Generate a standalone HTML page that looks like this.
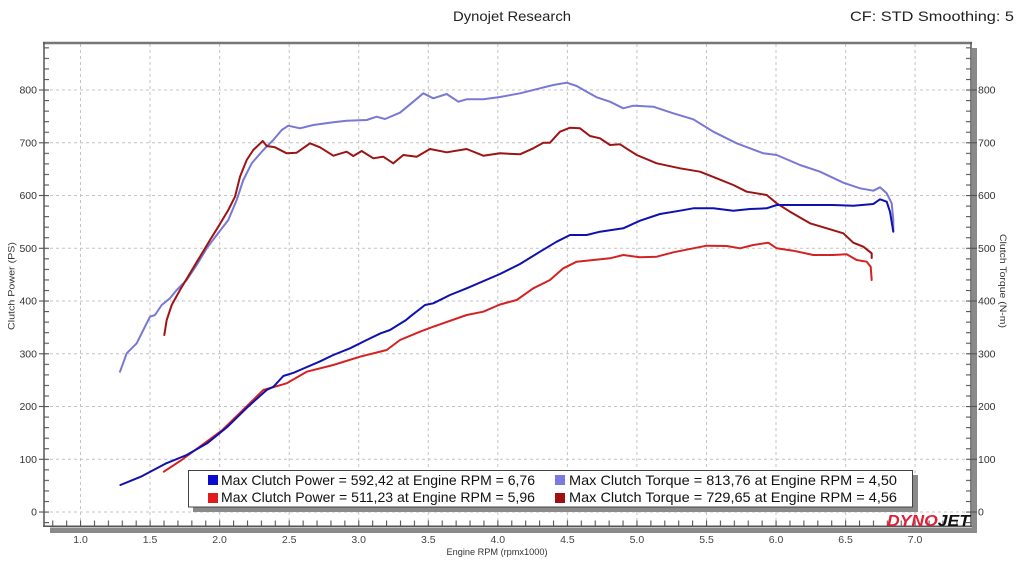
<!DOCTYPE html>
<html>
<head>
<meta charset="utf-8">
<style>
html,body{margin:0;padding:0;background:#fff;}
svg{display:block;}
text{font-family:"Liberation Sans",sans-serif;}
</style>
</head>
<body>
<svg width="1024" height="576" viewBox="0 0 1024 576" xmlns="http://www.w3.org/2000/svg">
<defs>
  <pattern id="xt" patternUnits="userSpaceOnUse" x="52.2" y="0" width="13.91" height="576">
    <rect x="0" y="520.5" width="1.1" height="5.5" fill="#555"/>
  </pattern>
  <pattern id="ylt" patternUnits="userSpaceOnUse" x="0" y="511.5" width="1024" height="10.55">
    <rect x="44" y="0" width="5" height="1.1" fill="#555"/>
  </pattern>
  <pattern id="yrt" patternUnits="userSpaceOnUse" x="0" y="511.5" width="1024" height="10.55">
    <rect x="966" y="0" width="5" height="1.1" fill="#555"/>
  </pattern>
</defs>

<!-- title -->
<text x="512" y="21" font-size="14" fill="#222" text-anchor="middle" textLength="118" lengthAdjust="spacingAndGlyphs">Dynojet Research</text>
<text x="850" y="21" font-size="14" fill="#222" textLength="164" lengthAdjust="spacingAndGlyphs">CF: STD Smoothing: 5</text>

<!-- shadows -->
<rect x="972" y="48" width="5" height="485" fill="#8a8a8a"/>
<rect x="50" y="527.5" width="927" height="5.5" fill="#8a8a8a"/>

<!-- gridlines -->
<g stroke="#c4c4c4" stroke-width="1" stroke-dasharray="3,3" fill="none">
  <line x1="80.5" y1="44" x2="80.5" y2="526"/>
  <line x1="150" y1="44" x2="150" y2="526"/>
  <line x1="219.6" y1="44" x2="219.6" y2="526"/>
  <line x1="289.2" y1="44" x2="289.2" y2="526"/>
  <line x1="358.7" y1="44" x2="358.7" y2="526"/>
  <line x1="428.3" y1="44" x2="428.3" y2="526"/>
  <line x1="497.8" y1="44" x2="497.8" y2="526"/>
  <line x1="567.4" y1="44" x2="567.4" y2="526"/>
  <line x1="636.9" y1="44" x2="636.9" y2="526"/>
  <line x1="706.5" y1="44" x2="706.5" y2="526"/>
  <line x1="776" y1="44" x2="776" y2="526"/>
  <line x1="845.6" y1="44" x2="845.6" y2="526"/>
  <line x1="915.1" y1="44" x2="915.1" y2="526"/>
  <line x1="44" y1="512" x2="971" y2="512"/>
  <line x1="44" y1="459.3" x2="971" y2="459.3"/>
  <line x1="44" y1="406.5" x2="971" y2="406.5"/>
  <line x1="44" y1="353.8" x2="971" y2="353.8"/>
  <line x1="44" y1="301" x2="971" y2="301"/>
  <line x1="44" y1="248.3" x2="971" y2="248.3"/>
  <line x1="44" y1="195.5" x2="971" y2="195.5"/>
  <line x1="44" y1="142.8" x2="971" y2="142.8"/>
  <line x1="44" y1="90" x2="971" y2="90"/>
</g>

<!-- ticks -->
<rect x="50" y="519" width="910" height="8" fill="url(#xt)"/>
<rect x="44" y="46" width="6" height="478" fill="url(#ylt)"/>
<rect x="965" y="46" width="6" height="478" fill="url(#yrt)"/>
<g stroke="#555" stroke-width="1.1">
  <line x1="39" y1="512" x2="44" y2="512"/><line x1="39" y1="459.3" x2="44" y2="459.3"/>
  <line x1="39" y1="406.5" x2="44" y2="406.5"/><line x1="39" y1="353.8" x2="44" y2="353.8"/>
  <line x1="39" y1="301" x2="44" y2="301"/><line x1="39" y1="248.3" x2="44" y2="248.3"/>
  <line x1="39" y1="195.5" x2="44" y2="195.5"/><line x1="39" y1="142.8" x2="44" y2="142.8"/>
  <line x1="39" y1="90" x2="44" y2="90"/>
  <line x1="971" y1="512" x2="977" y2="512"/><line x1="971" y1="459.3" x2="977" y2="459.3"/>
  <line x1="971" y1="406.5" x2="977" y2="406.5"/><line x1="971" y1="353.8" x2="977" y2="353.8"/>
  <line x1="971" y1="301" x2="977" y2="301"/><line x1="971" y1="248.3" x2="977" y2="248.3"/>
  <line x1="971" y1="195.5" x2="977" y2="195.5"/><line x1="971" y1="142.8" x2="977" y2="142.8"/>
  <line x1="971" y1="90" x2="977" y2="90"/>
</g>

<!-- frame -->
<line x1="43" y1="43" x2="972" y2="43" stroke="#777" stroke-width="2.5"/>
<line x1="44" y1="42" x2="44" y2="527" stroke="#555" stroke-width="1.5"/>
<line x1="43" y1="526.2" x2="972" y2="526.2" stroke="#555" stroke-width="1.5"/>
<line x1="971" y1="42" x2="971" y2="527" stroke="#555" stroke-width="1.5"/>

<!-- left labels -->
<g font-size="10.5" fill="#333" text-anchor="end">
  <text x="37" y="515.7">0</text>
  <text x="37" y="463">100</text>
  <text x="37" y="410.2">200</text>
  <text x="37" y="357.5">300</text>
  <text x="37" y="304.7">400</text>
  <text x="37" y="252">500</text>
  <text x="37" y="199.2">600</text>
  <text x="37" y="146.5">700</text>
  <text x="37" y="93.7">800</text>
</g>
<!-- right labels -->
<g font-size="10.5" fill="#333">
  <text x="978" y="515.7">0</text>
  <text x="978" y="463">100</text>
  <text x="978" y="410.2">200</text>
  <text x="978" y="357.5">300</text>
  <text x="978" y="304.7">400</text>
  <text x="978" y="252">500</text>
  <text x="978" y="199.2">600</text>
  <text x="978" y="146.5">700</text>
  <text x="978" y="93.7">800</text>
</g>
<!-- bottom labels -->
<g font-size="10.5" fill="#444" text-anchor="middle">
  <text x="80.5" y="543">1.0</text>
  <text x="150" y="543">1.5</text>
  <text x="219.6" y="543">2.0</text>
  <text x="289.2" y="543">2.5</text>
  <text x="358.7" y="543">3.0</text>
  <text x="428.3" y="543">3.5</text>
  <text x="497.8" y="543">4.0</text>
  <text x="567.4" y="543">4.5</text>
  <text x="636.9" y="543">5.0</text>
  <text x="706.5" y="543">5.5</text>
  <text x="776" y="543">6.0</text>
  <text x="845.6" y="543">6.5</text>
  <text x="915.1" y="543">7.0</text>
</g>

<!-- axis titles -->
<text x="497" y="555" font-size="9.5" fill="#333" text-anchor="middle" textLength="101" lengthAdjust="spacingAndGlyphs">Engine RPM (rpmx1000)</text>
<text transform="translate(14.5,286) rotate(-90)" font-size="9.5" fill="#333" text-anchor="middle" textLength="88" lengthAdjust="spacingAndGlyphs">Clutch Power (PS)</text>
<text transform="translate(1000,281) rotate(90)" font-size="9.5" fill="#333" text-anchor="middle" textLength="94" lengthAdjust="spacingAndGlyphs">Clutch Torque (N-m)</text>

<!-- curves -->
<g fill="none" stroke-width="2" stroke-linejoin="round" stroke-linecap="round">
  <polyline stroke="#7878d6" points="120,371.7 126.7,353.3 136.7,343.3 143.3,330 150,316.7 155,315 161.7,305 170,298.3 176.7,290 186.7,280 196.7,265 206.7,248.3 216.7,235 228.3,220 236.7,200 243.3,180 251.7,163.3 263.3,150 273.3,140 281.7,130 288.3,125.7 300,128.3 313.3,125 333.3,122.3 346.7,120.7 366.7,120 376.7,116.7 385,119 400,112.7 413.3,101.7 423.3,93.3 433.3,98.3 446.7,94 458.3,101.7 466.7,99.3 483.3,99.3 500,97 520,93.3 540,88.3 553.3,85 566.7,82.7 576.7,86 586.7,91.7 596.7,97.3 610,101.7 623.3,108.3 633.3,105.7 653.3,106.7 673.3,113.3 693.3,119.3 713.3,131.7 736.7,143.3 763.3,153.3 776.7,155 800,165 820,171.7 843.3,182.7 860,188.3 873.3,190.7 880,187.3 886.7,193.3 891.7,203.3 893.3,220 893.3,231"/>
  <polyline stroke="#9c1414" points="164.3,335 166.7,320 171.7,305 180,290 190,273.3 200,256.7 210,240 218.3,226.7 228.3,210 235,196.7 240,176.7 246.7,160 253.3,150 262.7,141 266.7,146 275,147.3 286.7,153.3 296.7,152.7 310,143.3 320,147.3 333.3,155.7 346.7,151.7 353.3,156 361.7,151 373.3,158.3 383.3,156.7 393.3,163.3 403.3,155 416.7,156.7 430,149 446.7,152.3 466.7,149 483.3,155.7 500,153.3 520,154.3 533.3,148.3 543.3,142.7 550,142.7 560,131.7 570,127.7 580,128.3 590,136 600,138.3 610,145 620,144.3 636.7,155 656.7,163.3 680,168.3 700,171.7 716.7,178.3 733.3,185 746.7,191.7 766.7,195 776.7,203.3 790,211.7 810,223.3 826.7,228.3 843.3,233.3 853.3,242.7 863.3,246.7 871.7,253.3 871.7,258"/>
  <polyline stroke="#d42222" points="163.8,471.7 181.6,460 202,445 222.4,430 242.9,410 263.3,390 286.7,383.3 306.7,371.7 333.3,365 360,356.7 386.7,350 400,340 420,331.7 433.3,326.7 466.7,315 483.3,311.7 500,304.5 516.7,300 533.3,288.3 550,280 563.3,268.3 576.7,261.7 593.3,260 610,258.3 623.3,255 640,257.3 656.7,256.7 673.3,252.3 693.3,248.3 706.7,245.7 726.7,246 740,248.3 753.3,245 768.3,242.7 776.7,248.3 793.3,250.7 813.3,255 833.3,255 846.7,254.3 856.7,260 866.7,261.7 870.7,266.7 871.7,280"/>
  <polyline stroke="#1010b0" points="120.4,485 140.8,476.7 166.3,463.3 186.7,455 207.1,443.3 227.6,426.7 248,406.7 266.7,390 273.5,386.7 283.3,376 293.9,372.7 300,370 319.4,361.7 333.3,355 350,348.3 366.7,340 380.6,333.3 390,330 406.1,320 410,316.7 425,305 433.3,303.3 450,295 466.7,288.3 500,274 520,264 540,251.7 556.7,241.7 570,235 586.7,235 600,231.7 623.3,228.3 640,220.7 660,214 680,210.7 693.3,208.3 713.3,208.3 733.3,210.7 750,209 766.7,208.3 776.7,205 800,205 833.3,205 853.3,205.7 873.3,204 880,199.3 886.7,201.7 890,211.7 893.3,231.7"/>
</g>

<!-- legend -->
<rect x="193" y="475" width="725" height="37" fill="#8a8a8a"/>
<rect x="188.5" y="470.5" width="724" height="36.5" fill="#fff" stroke="#444" stroke-width="1"/>
<rect x="208" y="475" width="10" height="10" fill="#0b0bd0"/>
<rect x="208" y="493" width="10" height="10" fill="#e01c1c"/>
<rect x="555" y="475" width="10" height="10" fill="#7a7ae0"/>
<rect x="555" y="493" width="10" height="10" fill="#a01010"/>
<g font-size="14" fill="#111">
  <text x="221" y="485" textLength="314" lengthAdjust="spacingAndGlyphs">Max Clutch Power = 592,42 at Engine RPM = 6,76</text>
  <text x="221" y="502" textLength="314" lengthAdjust="spacingAndGlyphs">Max Clutch Power = 511,23 at Engine RPM = 5,96</text>
  <text x="569" y="485" textLength="328" lengthAdjust="spacingAndGlyphs">Max Clutch Torque = 813,76 at Engine RPM = 4,50</text>
  <text x="569" y="502" textLength="328" lengthAdjust="spacingAndGlyphs">Max Clutch Torque = 729,65 at Engine RPM = 4,56</text>
</g>

<!-- logo -->
<text x="887" y="526" font-size="16" font-weight="bold" font-style="italic" textLength="83" lengthAdjust="spacingAndGlyphs"><tspan fill="#e0203a">DYNO</tspan><tspan fill="#111">JET</tspan></text>
</svg>
</body>
</html>
